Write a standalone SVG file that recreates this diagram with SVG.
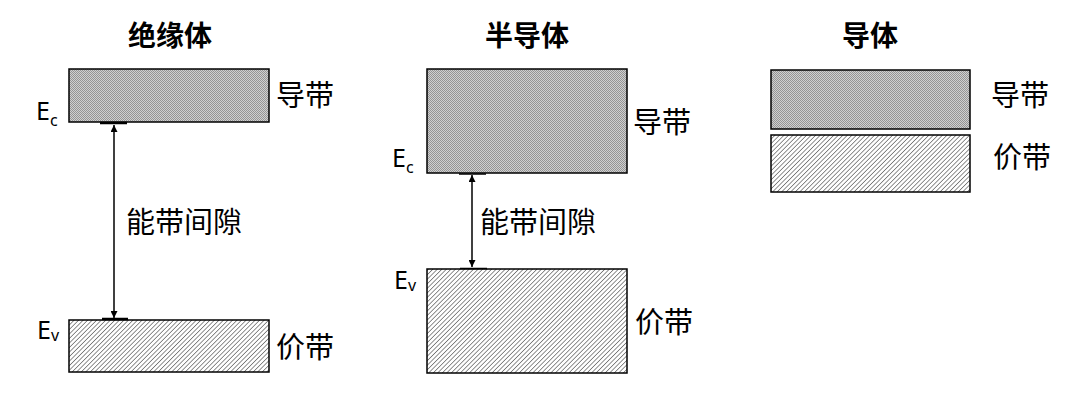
<svg xmlns="http://www.w3.org/2000/svg" width="1080" height="405" viewBox="0 0 1080 405">
<defs>
<pattern id="dots" width="2" height="2" patternUnits="userSpaceOnUse">
<rect width="2" height="2" fill="#d0d0d0"/>
<rect width="1" height="1" fill="#949494"/>
<rect x="1" y="1" width="1" height="1" fill="#949494"/>
</pattern>
<pattern id="hatch" width="3.2" height="3.2" patternUnits="userSpaceOnUse" patternTransform="rotate(45)">
<rect width="3.2" height="3.2" fill="#ffffff"/>
<line x1="0" y1="0" x2="0" y2="3.2" stroke="#555555" stroke-width="1.3"/>
</pattern>
<marker id="ah" viewBox="0 0 10 10" refX="10" refY="5" markerWidth="12" markerHeight="7" markerUnits="userSpaceOnUse" orient="auto-start-reverse">
<path d="M0,0 L10,5 L0,10 z" fill="#000"/>
</marker>
</defs>
<style>
.cb{fill:url(#dots);stroke:#000;stroke-width:1.5}
.vb{fill:url(#hatch);stroke:#000;stroke-width:1.5}
.t{font-family:"Noto Sans CJK SC",sans-serif;font-size:29px;fill:#000}
.h{font-family:"Noto Sans CJK SC",sans-serif;font-size:28px;font-weight:bold;fill:#000}
.e{font-family:"Noto Sans","Open Sans",sans-serif;font-size:25px;fill:#000}
.s{font-size:16px}
.arr{stroke:#000;stroke-width:1.5;fill:none;marker-start:url(#ah);marker-end:url(#ah)}
.bar{stroke:#000;fill:none}
</style>
<g id="insulator">
<text class="h" x="170" y="46" text-anchor="middle">绝缘体</text>
<rect class="cb" x="69" y="69" width="200" height="53"/>
<rect class="vb" x="69" y="320" width="200" height="52"/>
<text class="t" x="276" y="106">导带</text>
<text class="t" x="276" y="358">价带</text>
<text class="e" x="36" y="120">E<tspan class="s" dy="6">c</tspan></text>
<text class="e" x="37" y="339">E<tspan class="s" dy="2">v</tspan></text>
<line class="bar" x1="100" y1="123" x2="127" y2="123" stroke-width="2.5"/>
<line class="bar" x1="102" y1="319" x2="128" y2="319" stroke-width="2.5"/>
<text class="t" x="126" y="233">能带间隙</text>
</g>
<g id="semiconductor">
<text class="h" x="527" y="46" text-anchor="middle">半导体</text>
<rect class="cb" x="427" y="69" width="200" height="104"/>
<rect class="vb" x="427" y="269" width="200" height="104"/>
<text class="t" x="633" y="133">导带</text>
<text class="t" x="635" y="333">价带</text>
<text class="e" x="392" y="167">E<tspan class="s" dy="6">c</tspan></text>
<text class="e" x="394" y="289">E<tspan class="s" dy="2">v</tspan></text>
<line class="bar" x1="459" y1="174" x2="486" y2="174" stroke-width="1.5"/>
<line class="bar" x1="460" y1="268.5" x2="487" y2="268.5" stroke-width="1.5"/>
<text class="t" x="480" y="233">能带间隙</text>
</g>
<g id="conductor">
<text class="h" x="870" y="46" text-anchor="middle">导体</text>
<rect class="cb" x="771" y="70" width="199" height="59"/>
<rect class="vb" x="771" y="135" width="199" height="57"/>
<text class="t" x="991" y="106">导带</text>
<text class="t" x="993" y="168">价带</text>
</g>
<g id="connectors">
<line class="arr" x1="114" y1="125" x2="114" y2="318"/>
<line class="arr" x1="472" y1="175" x2="472" y2="267"/>
</g>
</svg>
